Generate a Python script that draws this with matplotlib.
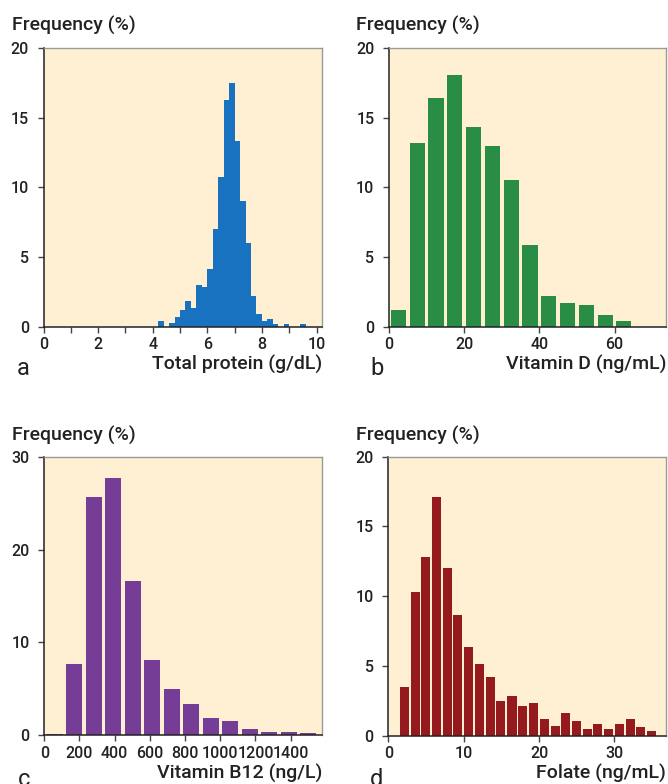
import matplotlib
matplotlib.use("Agg")
import matplotlib.pyplot as plt

plt.rcParams['font.family'] = ['Roboto', 'DejaVu Sans']
plt.rcParams['font.weight'] = 500

# a: total protein (g/dL), bins of 0.2
protein_x = [4.3, 4.5, 4.7, 4.9, 5.1, 5.3, 5.5, 5.7, 5.9, 6.1, 6.3, 6.5, 6.7, 6.9,
             7.1, 7.3, 7.5, 7.7, 7.9, 8.1, 8.3, 8.5, 8.7, 8.9, 9.1, 9.3, 9.5]
protein_y = [0.41, 0.0, 0.24, 0.69, 1.2, 1.84, 1.34, 2.99, 2.85, 4.14, 7.01, 10.74, 16.27, 17.49,
             13.33, 9.02, 6.0, 2.2, 0.91, 0.41, 0.55, 0.19, 0.0, 0.19, 0.0, 0.0, 0.19]

# b: vitamin D (ng/mL), bins of 5
vitd_x = [2.5, 7.5, 12.5, 17.5, 22.5, 27.5, 32.5, 37.5, 42.5, 47.5, 52.5, 57.5, 62.5]
vitd_y = [1.22, 13.21, 16.38, 18.03, 14.36, 13.0, 10.55, 5.88, 2.21, 1.70, 1.56, 0.84, 0.41]

# c: vitamin B12 (ng/L)
b12_x = [58, 169, 280, 391, 502, 613, 724, 834, 945, 1056, 1167, 1278, 1389, 1500]
b12_y = [0.14, 7.7, 25.7, 27.66, 16.65, 8.13, 5.0, 3.38, 1.87, 1.55, 0.68, 0.36, 0.36, 0.25]

# d: folate (ng/mL)
folate_x = [2.20, 3.55, 4.99, 6.43, 7.89, 9.24, 10.69, 12.15, 13.5, 14.94, 16.41, 17.76,
            19.20, 20.66, 22.15, 23.5, 24.92, 26.39, 27.76, 29.20, 30.66, 32.12, 33.44, 34.9]
folate_y = [3.51, 10.32, 12.83, 17.11, 12.04, 8.67, 6.38, 5.16, 4.21, 2.51, 2.87, 2.15,
            2.37, 1.22, 0.72, 1.65, 1.08, 0.50, 0.86, 0.50, 0.86, 1.22, 0.65, 0.36]

W, H = 668, 784
fig = plt.figure(figsize=(W / 100, H / 100), dpi=100)

bg = '#fff0d3'
tc = '#222222'


def make_axes(left, top, right, bottom):
    ax = fig.add_axes([left / W, 1 - bottom / H, (right - left) / W, (bottom - top) / H])
    ax.set_facecolor(bg)
    for s in ['left', 'bottom']:
        ax.spines[s].set_color('#222222')
        ax.spines[s].set_linewidth(1.1)
    for s in ['top', 'right']:
        ax.spines[s].set_color('#9a9a9a')
        ax.spines[s].set_linewidth(1.0)
    ax.tick_params(axis='x', direction='out', length=4.5, width=1, color='#444444',
                   labelsize=11.5, pad=3, labelcolor=tc)
    ax.tick_params(axis='y', direction='out', length=4.5, width=1, color='#444444',
                   labelsize=11.5, pad=6, labelcolor=tc)
    ax.tick_params(which='minor', direction='out', length=4.5, width=1, color='#444444')
    return ax


# panel a
ax = make_axes(43.5, 48, 322, 326.7)
ax.bar(protein_x, protein_y, width=0.2, color='#1872bf', linewidth=0)
ax.set_xlim(0, 10.2)
ax.set_ylim(0, 20)
ax.set_xticks([0, 2, 4, 6, 8, 10])
ax.set_xticks([1, 3, 5, 7, 9], minor=True)
ax.set_yticks([0, 5, 10, 15, 20])

# panel b
ax = make_axes(389, 48, 665.7, 326.7)
ax.bar(vitd_x, vitd_y, width=4.0, color='#2a8d45', linewidth=0)
ax.set_xlim(0, 73.6)
ax.set_ylim(0, 20)
ax.set_xticks([0, 20, 40, 60])
ax.set_yticks([0, 5, 10, 15, 20])

# panel c
ax = make_axes(44.3, 456.7, 322.3, 735.3)
ax.bar(b12_x, b12_y, width=91, color='#763d97', linewidth=0)
ax.set_xlim(0, 1580)
ax.set_ylim(0, 30)
ax.set_xticks([0, 200, 400, 600, 800, 1000, 1200, 1400])
ax.set_yticks([0, 10, 20, 30])

# panel d
ax = make_axes(388.3, 456.7, 665.7, 735.7)
ax.bar(folate_x, folate_y, width=1.2, color='#951a1e', linewidth=0)
ax.set_xlim(0, 36.8)
ax.set_ylim(0, 20)
ax.set_xticks([0, 10, 20, 30])
ax.set_yticks([0, 5, 10, 15, 20])


def ftext(x, y, s, **kw):
    fig.text(x / W, 1 - y / H, s, **kw)


for (x, y) in [(12, 30.5), (356, 30.5), (12, 440.5), (356, 440.5)]:
    ftext(x, y, 'Frequency (%)', fontsize=14, color=tc, va='baseline')

ftext(322, 370, 'Total protein (g/dL)', fontsize=14, color=tc, ha='right', va='baseline')
ftext(666, 370, 'Vitamin D (ng/mL)', fontsize=14, color=tc, ha='right', va='baseline')
ftext(322, 779, 'Vitamin B12 (ng/L)', fontsize=14, color=tc, ha='right', va='baseline')
ftext(666, 779, 'Folate (ng/mL)', fontsize=14, color=tc, ha='right', va='baseline')

for (x, y, s) in [(17, 375, 'a'), (370, 375, 'b'), (18, 786, 'c'), (370, 786, 'd')]:
    ftext(x, y, s, fontsize=17, weight=400, color=tc, va='baseline')

fig.savefig('out.png', dpi=100, facecolor='white')
